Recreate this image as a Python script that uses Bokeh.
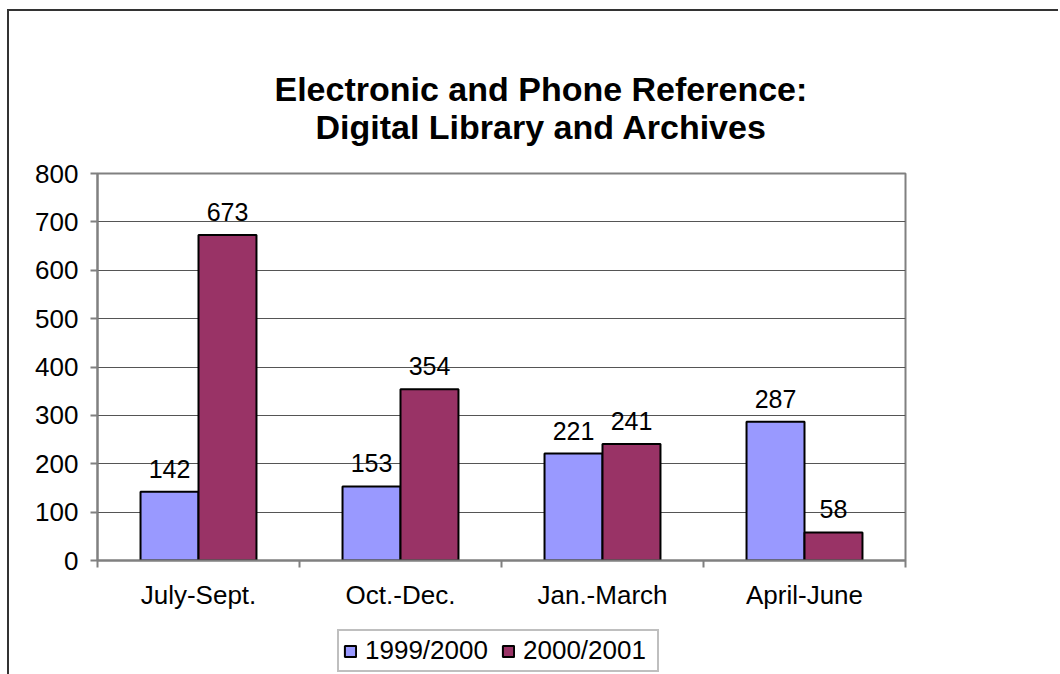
from bokeh.plotting import figure
from bokeh.layouts import column
from bokeh.models import (Range1d, FixedTicker, Title, LabelSet, Legend, LegendItem,
                          ColumnDataSource)
from bokeh.core.properties import value
from bokeh.embed import file_html
from bokeh.resources import INLINE

categories = ["July-Sept.", "Oct.-Dec.", "Jan.-March", "April-June"]
series_names = ["1999/2000", "2000/2001"]
values_1999 = [142, 153, 221, 287]
values_2000 = [673, 354, 241, 58]
y_ticks = [0, 100, 200, 300, 400, 500, 600, 700, 800]
title_lines = ["Electronic and Phone Reference:", "Digital Library and Archives"]

FONT = "Liberation Sans"
BLUE = "#9999FF"
PLUM = "#993366"
GREY = "#808080"

n = len(categories)
centers = [i + 0.5 for i in range(n)]
bw = 0.287
x1 = [c - bw / 2 for c in centers]
x2 = [c + bw / 2 for c in centers]

p = figure(frame_width=808, frame_height=387,
           min_border_left=88, min_border_right=145, min_border_top=162, min_border_bottom=60,
           x_range=Range1d(0, n), y_range=Range1d(0, 800),
           output_backend="svg", toolbar_location=None)

p.background_fill_color = "white"
p.border_fill_color = "white"
p.outline_line_color = GREY
p.outline_line_width = 2

s1 = ColumnDataSource(dict(x=x1, top=values_1999, lab=[str(v) for v in values_1999]))
s2 = ColumnDataSource(dict(x=x2, top=values_2000, lab=[str(v) for v in values_2000]))

r1 = p.vbar(x="x", top="top", width=bw, bottom=0, source=s1,
            fill_color=BLUE, line_color="black", line_width=2)
r2 = p.vbar(x="x", top="top", width=bw, bottom=0, source=s2,
            fill_color=PLUM, line_color="black", line_width=2)

for s in (s1, s2):
    p.add_layout(LabelSet(x="x", y="top", text="lab", source=s, y_offset=14,
                          text_align="center", text_baseline="bottom",
                          text_font=value(FONT), text_font_size="25px",
                          text_color="black"))

# axes
p.xgrid.visible = False
p.ygrid.grid_line_color = "#555555"
p.ygrid.grid_line_width = 1

p.yaxis.ticker = FixedTicker(ticks=y_ticks)
p.yaxis.major_tick_out = 7
p.yaxis.major_tick_in = 0
p.yaxis.minor_tick_line_color = None
p.yaxis.axis_line_color = GREY
p.yaxis.axis_line_width = 2
p.yaxis.major_tick_line_color = GREY
p.yaxis.major_tick_line_width = 2
p.yaxis.major_label_standoff = 12
p.yaxis.major_label_text_font = FONT
p.yaxis.major_label_text_font_size = "26px"
p.yaxis.major_label_text_color = "black"

p.xaxis.ticker = FixedTicker(ticks=centers, minor_ticks=list(range(n + 1)))
p.xaxis.major_label_overrides = {c: cat for c, cat in zip(centers, categories)}
p.xaxis.major_tick_line_color = None
p.xaxis.minor_tick_out = 7
p.xaxis.minor_tick_in = 0
p.xaxis.minor_tick_line_color = GREY
p.xaxis.minor_tick_line_width = 2
p.xaxis.axis_line_color = GREY
p.xaxis.axis_line_width = 2
p.xaxis.major_label_standoff = 12
p.xaxis.major_label_text_font = FONT
p.xaxis.major_label_text_font_size = "26px"
p.xaxis.major_label_text_color = "black"

# title (two lines, first added sits closest to the frame)
p.add_layout(Title(text=title_lines[1], align="left", offset=218, standoff=55,
                   text_font=FONT, text_font_size="34px", text_font_style="bold",
                   text_color="black"), "above")
p.add_layout(Title(text=title_lines[0], align="left", offset=177, standoff=-58,
                   text_font=FONT, text_font_size="34px", text_font_style="bold",
                   text_color="black"), "above")

# legend strip below the chart (its key renderers are hidden; only the legend shows)
pl = figure(frame_width=1049, frame_height=54, min_border=0,
            x_range=Range1d(0, n), y_range=Range1d(0, 800),
            x_axis_type=None, y_axis_type=None,
            output_backend="svg", toolbar_location=None)
pl.outline_line_color = None
pl.background_fill_color = "white"
pl.border_fill_color = "white"
pl.xgrid.visible = False
pl.ygrid.visible = False
k1 = pl.vbar(x=x1, top=values_1999, bottom=0, width=bw,
             fill_color=BLUE, line_color="black", line_width=2, visible=False)
k2 = pl.vbar(x=x2, top=values_2000, bottom=0, width=bw,
             fill_color=PLUM, line_color="black", line_width=2, visible=False)

legend = Legend(items=[LegendItem(label=series_names[0], renderers=[k1]),
                       LegendItem(label=series_names[1], renderers=[k2])],
                orientation="horizontal", location=(328, 2),
                label_text_font=FONT, label_text_font_size="26px", label_text_color="black",
                glyph_width=14, glyph_height=14, label_standoff=8, label_width=130,
                spacing=6, padding=4, margin=0,
                inactive_fill_alpha=0,
                border_line_color=GREY, border_line_width=2)
pl.add_layout(legend)

layout = column(p, pl, spacing=0,
                styles={"margin-left": "7px", "margin-top": "9px",
                        "border-left": "2px solid #333333", "border-top": "2px solid #333333"})

open("out.html", "w").write(file_html(layout, INLINE))
